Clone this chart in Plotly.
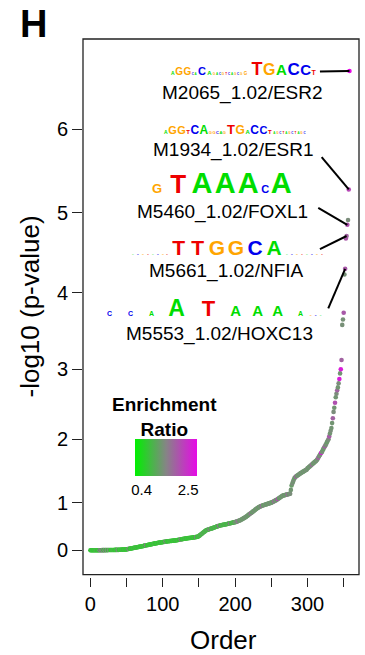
import numpy as np
import plotly.graph_objects as go

# ------------------------------------------------------------------ data
# -log10(p-value) of every motif, sorted ascending
neglog10_p = (
    [0.000, 0.000, 0.000, 0.000, 0.000, 0.000, 0.000, 0.001, 0.001, 0.001,
     0.001, 0.002, 0.002, 0.002, 0.002, 0.002, 0.003, 0.003, 0.003, 0.003]
    + [0.003, 0.004, 0.004, 0.004, 0.004, 0.005, 0.005, 0.005, 0.006, 0.006,
       0.006, 0.007, 0.007, 0.007, 0.008, 0.008, 0.008, 0.009, 0.009, 0.009]
    + [0.010, 0.011, 0.012, 0.013, 0.014, 0.015, 0.016, 0.017, 0.018, 0.019,
       0.020, 0.023, 0.026, 0.029, 0.032, 0.035, 0.038, 0.041, 0.044, 0.047]
    + [0.050, 0.053, 0.056, 0.059, 0.062, 0.065, 0.068, 0.071, 0.074, 0.077,
       0.080, 0.083, 0.086, 0.090, 0.093, 0.097, 0.100, 0.104, 0.107, 0.110]
    + [0.113, 0.117, 0.120, 0.123, 0.127, 0.130, 0.133, 0.136, 0.139, 0.142,
       0.145, 0.148, 0.151, 0.154, 0.157, 0.160, 0.161, 0.163, 0.166, 0.169]
    + [0.172, 0.175, 0.177, 0.180, 0.182, 0.185, 0.187, 0.189, 0.190, 0.192,
       0.194, 0.196, 0.197, 0.199, 0.201, 0.203, 0.205, 0.207, 0.208, 0.210]
    + [0.213, 0.216, 0.219, 0.222, 0.225, 0.228, 0.231, 0.234, 0.237, 0.240,
       0.243, 0.246, 0.248, 0.250, 0.252, 0.254, 0.256, 0.258, 0.260, 0.262]
    + [0.264, 0.266, 0.268, 0.270, 0.272, 0.275, 0.278, 0.280, 0.285, 0.290,
       0.300, 0.312, 0.324, 0.336, 0.348, 0.360, 0.372, 0.384, 0.396, 0.408]
    + [0.420, 0.425, 0.430, 0.435, 0.440, 0.445, 0.450, 0.455, 0.460, 0.465,
       0.470, 0.476, 0.482, 0.488, 0.494, 0.500, 0.506, 0.510, 0.515, 0.520]
    + [0.523, 0.526, 0.529, 0.532, 0.535, 0.538, 0.541, 0.544, 0.547, 0.550,
       0.555, 0.559, 0.562, 0.566, 0.570, 0.573, 0.577, 0.580, 0.584, 0.587]
    + [0.590, 0.595, 0.600, 0.606, 0.612, 0.618, 0.624, 0.630, 0.638, 0.646,
       0.655, 0.664, 0.673, 0.682, 0.691, 0.700, 0.712, 0.724, 0.736, 0.748]
    + [0.760, 0.770, 0.780, 0.792, 0.804, 0.816, 0.828, 0.840, 0.852, 0.864,
       0.876, 0.886, 0.896, 0.905, 0.913, 0.920, 0.927, 0.933, 0.938, 0.943]
    + [0.948, 0.953, 0.958, 0.963, 0.968, 0.973, 0.978, 0.983, 0.988, 0.993,
       0.998, 1.004, 1.010, 1.016, 1.022, 1.028, 1.034, 1.040, 1.048, 1.056]
    + [1.064, 1.072, 1.080, 1.088, 1.096, 1.104, 1.110, 1.113, 1.116, 1.119,
       1.122, 1.125, 1.128, 1.131, 1.134, 1.137, 1.140, 1.200, 1.270, 1.300]
    + [1.330, 1.360, 1.385, 1.400, 1.410, 1.420, 1.428, 1.436, 1.444, 1.452,
       1.460, 1.467, 1.474, 1.481, 1.488, 1.495, 1.502, 1.509, 1.516, 1.523]
    + [1.540, 1.550, 1.560, 1.570, 1.580, 1.590, 1.600, 1.610, 1.620, 1.630,
       1.640, 1.650, 1.660, 1.670, 1.690, 1.710, 1.730, 1.750, 1.770, 1.785]
    + [1.800, 1.825, 1.850, 1.870, 1.890, 1.910, 1.930, 1.955, 1.980, 2.000,
       2.040, 2.080, 2.120, 2.160, 2.230, 2.300, 2.390, 2.450, 2.520, 2.600,
       2.650, 2.700, 2.740, 2.800, 2.860]
    + [2.940, 3.000, 3.120, 3.580, 3.650, 3.740, 4.230, 4.300, 4.680, 4.710,
       4.850, 4.910, 5.280, 6.700]
)

# enrichment ratio of every motif (same order)
enrichment_ratio = (
    [0.7, 0.6, 0.8, 0.7, 0.7, 0.6, 0.8, 0.7, 0.9, 0.7,
     0.6, 0.8, 0.7, 2.0, 0.7, 1.9, 0.8, 2.1, 0.7, 0.8]
    + [1.9, 0.7, 0.8, 2.0, 0.6, 0.7, 1.8, 0.8, 0.7, 0.6,
       0.8, 0.7, 0.9, 0.7, 0.6, 0.7, 0.8, 0.7, 1.8, 0.7]
    + [0.6, 0.8, 0.7, 0.7, 0.9, 0.6, 0.7, 0.8, 0.7, 0.6,
       0.7, 0.8, 0.7, 1.9, 0.7, 0.6, 0.8, 0.7, 0.7, 0.8]
    + [0.7, 0.6, 0.8, 0.7, 0.9, 0.7, 0.6, 0.7, 0.8, 0.7,
       0.6, 0.8, 0.7, 0.7, 0.9, 0.6, 0.7, 2.0, 0.8, 0.7]
    + [0.6, 0.7, 0.8, 0.7, 0.7, 0.6, 0.8, 0.7, 0.9, 0.7,
       0.6, 0.7, 0.8, 0.7, 0.6, 0.8, 0.7, 0.7, 0.9, 0.6]
    + [0.7, 0.8, 0.7, 0.6, 1.9, 0.7, 0.8, 0.7, 0.6, 0.8,
       0.7, 0.9, 0.7, 0.6, 0.7, 0.8, 0.7, 0.6, 0.8, 0.7]
    + [0.7, 0.9, 0.6, 0.7, 0.8, 2.0, 0.7, 0.6, 0.8, 0.7,
       0.7, 0.9, 0.6, 0.7, 0.8, 0.7, 0.6, 0.8, 0.7, 0.7]
    + [0.9, 0.6, 0.7, 0.8, 0.7, 0.6, 1.9, 0.7, 0.8, 0.7,
       0.9, 0.8, 1.0, 0.9, 0.8, 1.1, 0.9, 0.8, 1.0, 0.9]
    + [0.8, 0.9, 1.0, 0.8, 0.9, 2.0, 0.8, 0.9, 1.0, 0.8,
       0.9, 0.8, 1.0, 0.9, 0.8, 0.9, 1.0, 0.8, 2.1, 0.9]
    + [0.8, 0.9, 1.0, 0.9, 0.8, 0.9, 1.0, 0.8, 0.9, 0.8,
       1.0, 0.9, 0.8, 1.9, 0.9, 1.0, 0.8, 0.9, 1.0, 0.9]
    + [1.2, 1.3, 1.2, 1.4, 1.9, 1.2, 1.3, 1.2, 1.4, 1.3,
       1.2, 1.3, 1.2, 1.4, 1.3, 1.2, 1.4, 1.2, 1.3, 1.2]
    + [1.4, 1.3, 1.9, 1.2, 1.2, 1.3, 1.4, 1.2, 1.3, 1.2,
       1.3, 1.4, 1.2, 1.2, 1.3, 1.4, 1.2, 2.0, 1.3, 1.2]
    + [1.2, 1.3, 1.4, 1.2, 1.3, 1.2, 1.3, 1.4, 1.2, 1.3,
       1.4, 1.2, 1.2, 1.3, 1.9, 1.2, 1.4, 1.3, 1.2, 2.6]
    + [1.3, 1.2, 1.2, 1.4, 1.3, 1.2, 1.3, 1.4, 1.2, 1.3,
       1.3, 1.2, 1.4, 1.9, 1.3, 1.2, 1.4, 1.3, 1.2, 1.4]
    + [1.3, 1.4, 1.2, 1.2, 2.0, 1.3, 1.3, 1.4, 1.2, 1.3,
       1.4, 1.2, 1.4, 1.3, 1.2, 1.4, 1.3, 1.2, 1.4, 1.3]
    + [1.4, 1.2, 1.3, 1.4, 1.2, 1.3, 1.9, 1.4, 1.3, 1.2,
       1.4, 1.3, 1.2, 1.4, 1.3, 2.0, 1.3, 1.4, 1.3, 2.7]
    + [1.4, 1.3, 1.2, 1.4, 1.9, 1.3, 1.4, 1.2, 1.3, 1.4,
       2.0, 1.3, 1.4, 1.3, 1.3, 1.9, 1.4, 1.3, 2.1, 1.3,
       1.4, 1.9, 1.3, 1.4, 2.7]
    + [1.3, 2.7, 1.9, 1.35, 1.35, 2.0, 1.35, 2.0, 2.0, 1.9,
       2.1, 1.4, 2.2, 2.9]
)

if len(neglog10_p) != len(enrichment_ratio):
    raise ValueError(f"length mismatch {len(neglog10_p)} vs {len(enrichment_ratio)}")

order = list(range(len(neglog10_p)))

y_tick_values = [0, 1, 2, 3, 4, 5, 6]
y_tick_labels = ["0", "1", "2", "3", "4", "5", "6"]
x_tick_values = [0, 50, 100, 150, 200, 250, 300, 350]
x_tick_labels = ["0", "", "100", "", "200", "", "300", ""]

colorbar_ticks = [0.4, 2.5]
colorbar_labels = ["0.4", "2.5"]

motif_names = ["M2065_1.02/ESR2", "M1934_1.02/ESR1", "M5460_1.02/FOXL1",
               "M5661_1.02/NFIA", "M5553_1.02/HOXC13"]
motif_point = [358, 357, 355, 354, 352]   # order index each label points to

# sequence logos (consensus letters, including faint positions)
logo_letters = {
    "ESR2": "AGGCACAGACGTCAGCGGTGACCT",
    "ESR1": "AGGTCAGGCAGTGACCTAGCTAGCTAGC",
    "FOXL1": "GTAAACA",
    "NFIA": "ACGTACGTTTGGCAACGTACGT",
    "HOXC13": "CCAATAAAAGCA",
}

# ------------------------------------------------------------------ geometry
W, H = 365, 655
L, R, T, B = 83.3, 6, 39, 78.3
BOX_BOTTOM = 574.3          # pixel y of plot frame bottom
X0_PX, X_PX_PER_UNIT = 90.7, 0.7229
Y0_PX = 550.0               # pixel y of the 0 tick
# the y axis of the original is not linear: pixel offset of each tick above 0
Y_TICK_POS = [0, 47.7, 111, 181, 257.3, 337.3, 420.7]


def xd(px):
    return (px - X0_PX) / X_PX_PER_UNIT


def yu(py):
    return Y0_PX - py


def to_axis(v):
    v = np.atleast_1d(np.asarray(v, dtype=float))
    u = np.interp(v, y_tick_values, Y_TICK_POS)
    hi = v > y_tick_values[-1]
    slope = (Y_TICK_POS[-1] - Y_TICK_POS[-2]) / (y_tick_values[-1] - y_tick_values[-2])
    u[hi] = Y_TICK_POS[-1] + (v[hi] - y_tick_values[-1]) * slope
    return u


paper_h = H - T - B
plot_w = W - L - R


def ppx(px):
    return (px - L) / plot_w


def ppy(py):
    return (H - B - py) / paper_h


FONT = "Liberation Sans, Arial, Helvetica, sans-serif"
COLORSCALE = [[0.0, "#00f000"], [0.5, "#858585"], [1.0, "#e60ae6"]]
LETTER_COLOR = {"A": "#00dd00", "C": "#0000ee", "G": "#ffa500", "T": "#ee0000"}
ADVANCE = {"A": 0.722, "C": 0.722, "G": 0.778, "T": 0.611}   # bold em widths

y_plot = to_axis(neglog10_p)

fig = go.Figure()
fig.add_trace(go.Scatter(
    x=order, y=y_plot, mode="markers",
    customdata=neglog10_p,
    hovertemplate="Order %{x}<br>-log10 p %{customdata}<extra></extra>",
    marker=dict(
        size=4.6, color=enrichment_ratio, colorscale=COLORSCALE,
        cmin=0.1, cmax=2.9, line=dict(width=0),
        colorbar=dict(
            orientation="h", xref="container", yref="container",
            x=0.4892, xanchor="left", y=1 - 439.3 / H,
            yanchor="top",
            len=62, lenmode="pixels", thickness=37, thicknessmode="pixels",
            xpad=0, ypad=0, outlinewidth=0, ticks="",
            tickvals=colorbar_ticks, ticktext=colorbar_labels,
            tickfont=dict(family=FONT, size=15, color="black"),
        ),
    ),
    showlegend=False,
))

# ------------------------------------------------------------------ motif labels
label_pos = {  # label centre (px, py), line start (px, py)
    0: ((242.5, 92.5), (320, 71.5)),
    1: ((234, 150), (321.7, 157)),
    2: ((222.5, 212), (318.3, 207.7)),
    3: ((226.7, 271), (320, 249)),
    4: ((220, 333.5), (328.3, 308.3)),
}
for i, name in enumerate(motif_names):
    (cx, cy), (lx, ly) = label_pos[i]
    fig.add_annotation(x=xd(cx), y=yu(cy), xref="x", yref="y", text=name,
                       showarrow=False, xanchor="center", yanchor="middle",
                       font=dict(family=FONT, size=19, color="black"))
    pidx = motif_point[i]
    fig.add_shape(type="line", xref="x", yref="y",
                  x0=xd(lx), y0=yu(ly), x1=order[pidx], y1=float(y_plot[pidx]),
                  line=dict(color="black", width=2))

# ------------------------------------------------------------------ logos
# per logo: baseline pixel y, and per letter (centre px, font px)
tiny_esr2 = [(212.5 + 3 * k, 3) for k in range(10)]
tiny_esr1 = [(268 + 3 * k, 3) for k in range(12)]
logo_layout = {
    "ESR2": (76.5, [(172, 5), (178, 10), (186, 10), (191.5, 3), (194, 3),
                    (200.5, 11), (208, 6)] + tiny_esr2 +
                   [(244, 4.5), (255.5, 18), (267.3, 16), (278.6, 15),
                    (290, 17), (301.3, 15), (309, 7)]),
    "ESR1": (135.5, [(165, 5), (170.5, 11), (179, 11), (185, 6), (191, 12),
                     (200, 12), (206, 4), (209.2, 4), (212.4, 4), (215.6, 4),
                     (218.8, 4), (225.5, 13), (234.5, 12), (241.5, 6),
                     (248.5, 12), (257, 11), (263.5, 6)] + tiny_esr1),
    "FOXL1": (194, [(156, 13), (177, 26), (201, 29), (224, 29), (247, 29),
                    (264, 11), (280, 29)]),
    "NFIA": (255, [(132, 2.5), (137, 2.5), (142, 2.5), (147, 2.5), (152, 2.5),
                   (157, 2.5), (162, 2.5), (166, 2.5),
                   (177.6, 21), (196.8, 21), (216, 21), (235, 21), (254, 21),
                   (273, 21),
                   (286, 2.5), (291, 2.5), (296, 2.5), (301, 2.5), (306, 2.5),
                   (311, 2.5), (316, 2.5), (321, 2.5)]),
    "HOXC13": (316.5, [(109, 7), (130, 7), (151, 7), (176, 23), (208, 22),
                       (235, 15), (257, 15), (277, 15), (300, 7), (310, 2.5),
                       (315, 2.5), (320, 2.5)]),
}
MIN_GAP = 0.5
for key, letters in logo_letters.items():
    base, cols = logo_layout[key]
    n = min(len(letters), len(cols))
    lefts = [cols[i][0] - ADVANCE[letters[i]] * cols[i][1] / 2 for i in range(n)]
    parts = []
    for i in range(n):
        ch, fs = letters[i], cols[i][1]
        gap = 0.0 if i == n - 1 else max(MIN_GAP, lefts[i + 1] - (lefts[i] + ADVANCE[ch] * fs))
        parts.append(f'<span style="font-size:{fs}px;color:{LETTER_COLOR[ch]};'
                     f'letter-spacing:{gap:.2f}px">{ch}</span>')
    max_fs = max(c[1] for c in cols[:n])
    fig.add_annotation(x=xd(lefts[0]), y=yu(base + 0.212 * max_fs),
                       xref="x", yref="y", text="".join(parts),
                       showarrow=False, xanchor="left", yanchor="bottom",
                       borderpad=0,
                       font=dict(family=FONT, size=max_fs, weight=700))

# ------------------------------------------------------------------ other text
fig.add_annotation(x=ppx(165), y=ppy(416.5), xref="paper", yref="paper",
                   text="Enrichment<br>Ratio", showarrow=False,
                   xanchor="center", yanchor="middle",
                   font=dict(family=FONT, size=19, weight=700, color="black"))
fig.add_annotation(x=ppx(34), y=ppy(24), xref="paper", yref="paper",
                   text="H", showarrow=False, xanchor="center", yanchor="middle",
                   font=dict(family=FONT, size=38, weight=700, color="black"))
fig.add_annotation(x=ppx(224), y=ppy(639.5), xref="paper", yref="paper",
                   text="Order", showarrow=False, xanchor="center",
                   yanchor="middle",
                   font=dict(family=FONT, size=26, color="black"))
fig.add_annotation(x=ppx(30), y=ppy(306.7), xref="paper", yref="paper",
                   text="-log10 (p-value)", showarrow=False, textangle=-90,
                   xanchor="center", yanchor="middle",
                   font=dict(family=FONT, size=26, color="black"))

# plot frame
y_dom0 = ppy(BOX_BOTTOM)
fig.add_shape(type="rect", xref="paper", yref="paper", x0=0, x1=1,
              y0=y_dom0, y1=1, line=dict(color="#222222", width=1.3),
              layer="above")

fig.update_layout(
    width=W, height=H,
    margin=dict(l=L, r=R, t=T, b=B, autoexpand=False),
    paper_bgcolor="white", plot_bgcolor="white",
    font=dict(family=FONT, color="black"),
    xaxis=dict(range=[xd(L), xd(W - R)], anchor="free", position=0,
               showline=False, showgrid=False, zeroline=False,
               ticks="outside", ticklen=9, tickwidth=1.3, tickcolor="#222222",
               tickvals=x_tick_values, ticktext=x_tick_labels,
               tickfont=dict(family=FONT, size=20, color="black")),
    yaxis=dict(range=[yu(BOX_BOTTOM), yu(T)], domain=[y_dom0, 1],
               anchor="x",
               showline=False, showgrid=False, zeroline=False,
               ticks="outside", ticklen=10, tickwidth=1.3, tickcolor="#222222",
               tickvals=Y_TICK_POS, ticktext=y_tick_labels,
               tickfont=dict(family=FONT, size=20, color="black")),
)

fig.write_html("out.html", config={"displayModeBar": False},
               post_script="document.body.style.margin='0';"
                           "document.body.style.overflow='hidden';")
